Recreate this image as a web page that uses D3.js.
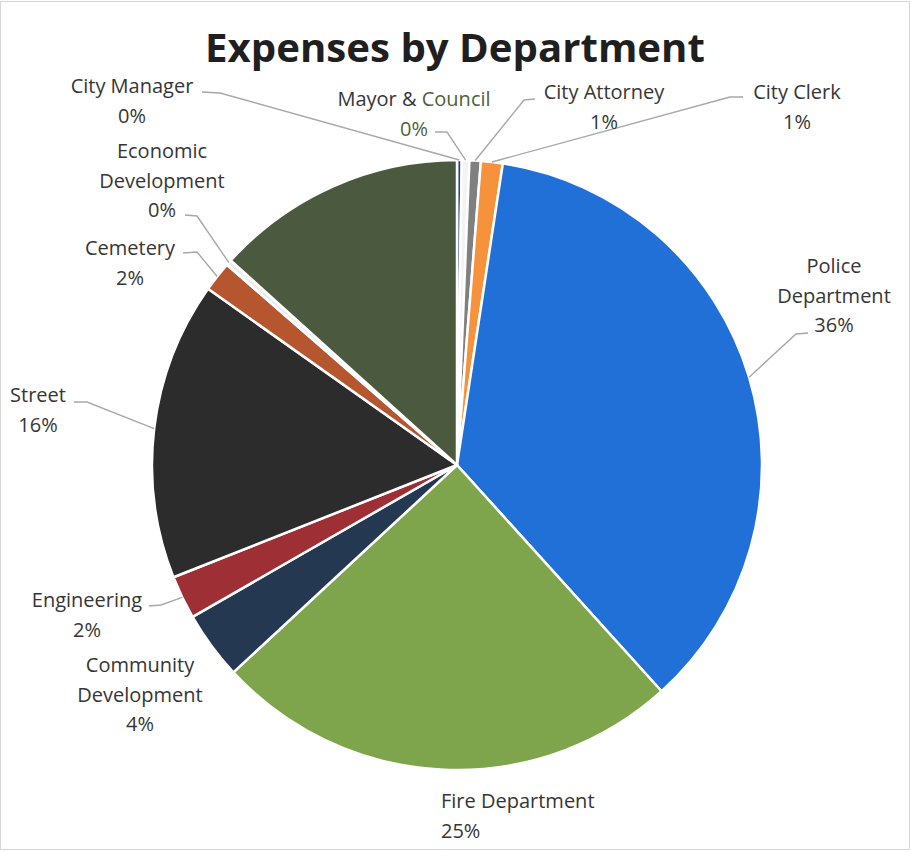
<!DOCTYPE html>
<html>
<head>
<meta charset="utf-8">
<script src="https://cdn.jsdelivr.net/npm/d3@7"></script>
<style>
  html, body { margin: 0; padding: 0; background: #fff; }
  svg { display: block; }
</style>
</head>
<body>
<svg id="chart" width="910" height="852"></svg>
<script>
// Expense shares by department, clockwise from 12 o'clock
const categories = [
  "City Manager", "Mayor & Council", "City Attorney", "City Clerk",
  "Police Department", "Fire Department", "Community Development",
  "Engineering", "Street", "Cemetery", "Economic Development", ""
];
const values = [0.25, 0.4, 0.6, 1.15, 35.9, 24.8, 3.6, 2.3, 15.8, 1.6, 0.3, 13.3];
const colors = [
  "#23468a", "#f3f3f3", "#7f7f7f", "#f7923c",
  "#2170d8", "#7ea54b", "#243852",
  "#9d2f35", "#2c2c2c", "#b5562f", "#ececec", "#4b5a3f"
];
// How each department name wraps in its label
const nameLines = {
  "City Manager": ["City Manager"],
  "Mayor & Council": ["Mayor & Council"],
  "City Attorney": ["City Attorney"],
  "City Clerk": ["City Clerk"],
  "Police Department": ["Police", "Department"],
  "Fire Department": ["Fire Department"],
  "Community Development": ["Community", "Development"],
  "Engineering": ["Engineering"],
  "Street": ["Street"],
  "Cemetery": ["Cemetery"],
  "Economic Development": ["Economic", "Development"]
};

const svg = d3.select("#chart");
const W = 910, H = 852;
const cx = 457, cy = 465, R = 305;
const textColor = "#363636";
const tint = "#4f5f3c";

// faint frame
svg.append("rect").attr("x", 0.5).attr("y", 1.5).attr("width", W - 1).attr("height", H - 4)
  .attr("fill", "none").attr("stroke", "#d6d6d6").attr("stroke-width", 1);

// title, fitted to its width
const title = svg.append("text")
  .attr("x", 455).attr("y", 62)
  .attr("text-anchor", "middle")
  .attr("font-family", "'Open Sans', 'Noto Sans', sans-serif")
  .attr("font-weight", 700)
  .attr("font-size", 40)
  .attr("fill", "#1f1f1f")
  .text("Expenses by Department");
const tw = title.node().getComputedTextLength();
title.attr("font-size", 40 * 500 / tw);

const data = categories.map((c, i) => ({ name: c, value: values[i], color: colors[i] }));
const total = d3.sum(values);
const pct = d3.format(".0%");

const pie = d3.pie().value(d => d.value).sort(null).startAngle(0).endAngle(2 * Math.PI);
const arc = d3.arc().innerRadius(0).outerRadius(R);
const arcs = pie(data);

const g = svg.append("g").attr("transform", `translate(${cx},${cy})`);
g.selectAll("path").data(arcs).join("path")
  .attr("d", arc)
  .attr("fill", d => d.data.color)
  .attr("stroke", "#fff")
  .attr("stroke-width", 2.5)
  .attr("stroke-linejoin", "round");

// label placement: first baseline, anchor, and leader-line start/elbow
const labelPos = {
  "City Manager":          { x: 132, y: 93,  anchor: "middle", leader: [[202, 92], [220, 93]] },
  "Mayor & Council":       { x: 414, y: 106, anchor: "middle", leader: [[435, 132], [447, 132]] },
  "City Attorney":         { x: 604, y: 99,  anchor: "middle", leader: [[535, 99], [524, 100]] },
  "City Clerk":            { x: 797, y: 99,  anchor: "middle", leader: [[743, 97], [730, 97]] },
  "Police Department":     { x: 834, y: 273, anchor: "middle", leader: [[808, 333], [796, 334]] },
  "Fire Department":       { x: 441, y: 808, anchor: "start",  leader: null },
  "Community Development": { x: 140, y: 672, anchor: "middle", leader: null },
  "Engineering":           { x: 87,  y: 607, anchor: "middle", leader: [[149, 606], [161, 605]] },
  "Street":                { x: 38,  y: 402, anchor: "middle", leader: [[74, 402], [87, 402]] },
  "Cemetery":              { x: 130, y: 255, anchor: "middle", leader: [[183, 253], [197, 252]] },
  "Economic Development":  { x: 162, y: 158, anchor: "middle", leader: [[185, 215], [197, 216]] }
};
const lineGap = 29.5;

// leader lines to the slice's outer edge
const line = d3.line();
arcs.forEach(a => {
  const p = labelPos[a.data.name];
  if (!p || !p.leader) return;
  const mid = (a.startAngle + a.endAngle) / 2;
  const end = [cx + R * Math.sin(mid), cy - R * Math.cos(mid)];
  svg.append("path")
    .attr("d", line([...p.leader, end]))
    .attr("fill", "none")
    .attr("stroke", "#a8a8a8")
    .attr("stroke-width", 1.4);
});

// labels: name lines then percentage
const tintedWord = { "Mayor & Council": "Council" };
arcs.forEach(a => {
  const name = a.data.name;
  const p = labelPos[name];
  if (!p) return;
  const lines = nameLines[name].concat([pct(a.data.value / total)]);
  const t = svg.append("text")
    .attr("font-family", "'Open Sans', 'Noto Sans', sans-serif")
    .attr("font-size", 20)
    .attr("fill", textColor)
    .attr("text-anchor", p.anchor);
  lines.forEach((ln, i) => {
    const y = p.y + i * lineGap;
    const word = tintedWord[name];
    const isPct = i === lines.length - 1;
    if (word && !isPct && ln.includes(word)) {
      const k = ln.indexOf(word);
      const row = t.append("tspan").attr("x", p.x).attr("y", y);
      row.append("tspan").text(ln.slice(0, k));
      row.append("tspan").attr("fill", tint).text(word);
    } else {
      t.append("tspan").attr("x", p.x).attr("y", y)
        .attr("fill", word && isPct ? tint : null)
        .text(ln);
    }
  });
});
</script>
</body>
</html>
